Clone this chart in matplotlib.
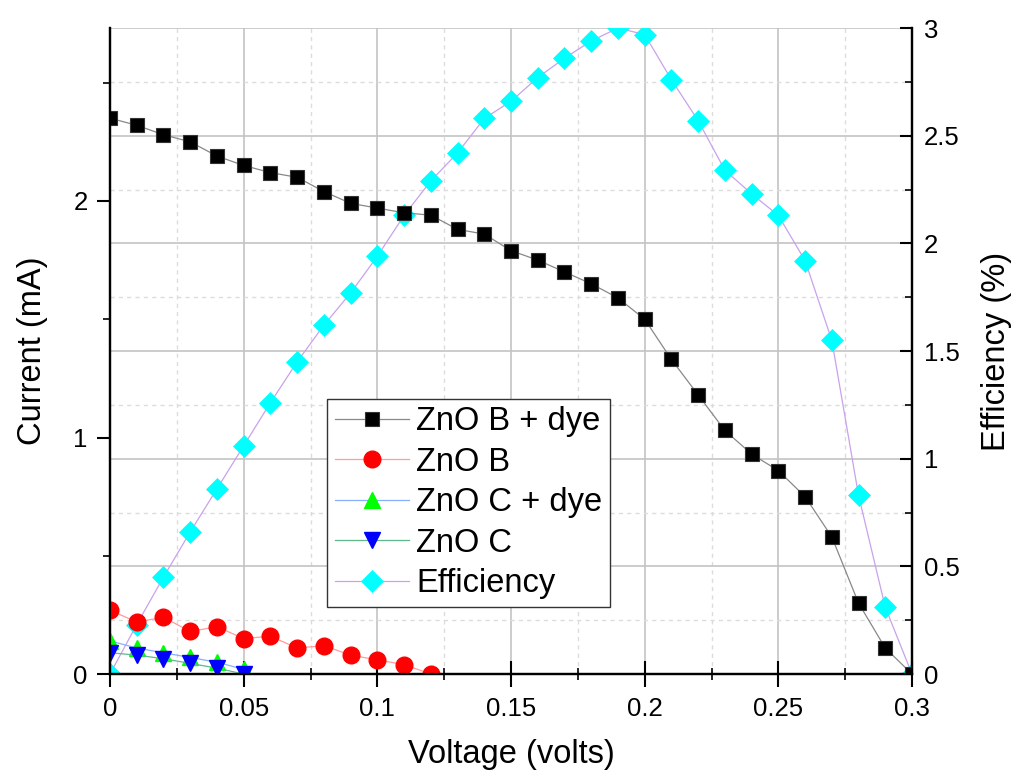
import matplotlib
matplotlib.use("Agg")
import matplotlib.pyplot as plt
from matplotlib.ticker import MultipleLocator, FormatStrFormatter
import numpy as np

plt.rcParams['font.family'] = ['Liberation Sans', 'DejaVu Sans']

# voltage steps (volts)
volts = [0, 0.01, 0.02, 0.03, 0.04, 0.05, 0.06, 0.07, 0.08, 0.09, 0.1,
         0.11, 0.12, 0.13, 0.14, 0.15, 0.16, 0.17, 0.18, 0.19, 0.2,
         0.21, 0.22, 0.23, 0.24, 0.25, 0.26, 0.27, 0.28, 0.29, 0.3]

# current (mA)
znob_dye = [2.35, 2.32, 2.28, 2.25, 2.19, 2.15, 2.12, 2.10, 2.04, 1.99, 1.97,
            1.95, 1.94, 1.88, 1.86, 1.79, 1.75, 1.70, 1.65, 1.59, 1.50,
            1.33, 1.18, 1.03, 0.93, 0.86, 0.75, 0.58, 0.30, 0.11, 0.0]
volts_b = volts[:13]
znob = [0.27, 0.22, 0.24, 0.18, 0.20, 0.15, 0.16, 0.11, 0.12, 0.08, 0.06, 0.04, 0.0]
volts_c = volts[:6]
znoc_dye = [0.14, 0.11, 0.09, 0.07, 0.05, 0.02]
znoc = [0.09, 0.08, 0.065, 0.045, 0.025, 0.0]

# efficiency (%)
eff = [0.0, 0.23, 0.45, 0.66, 0.86, 1.06, 1.26, 1.45, 1.62, 1.77, 1.94,
       2.13, 2.29, 2.42, 2.58, 2.66, 2.77, 2.86, 2.94, 3.00, 2.97,
       2.76, 2.57, 2.34, 2.23, 2.13, 1.92, 1.55, 0.83, 0.31, 0.0]

fig = plt.figure(figsize=(10.13, 7.73), dpi=100)
ax_e = fig.add_axes([0.1086, 0.128, 0.7917, 0.8357])
ax_i = ax_e.twinx()

# efficiency axis (right) carries the grid, drawn underneath
ax_e.plot(volts, eff, color='#c8a2ec', lw=0.9, marker='D', ms=11.5,
          mfc='cyan', mec='cyan', mew=0.5, label='Efficiency')
ax_e.set_xlim(0, 0.3)
ax_e.set_ylim(0, 3)
ax_e.xaxis.set_major_locator(MultipleLocator(0.05))
ax_e.xaxis.set_minor_locator(MultipleLocator(0.025))
ax_e.xaxis.set_major_formatter(FormatStrFormatter('%g'))
ax_e.yaxis.set_major_locator(MultipleLocator(0.5))
ax_e.yaxis.set_minor_locator(MultipleLocator(0.25))
ax_e.yaxis.set_major_formatter(FormatStrFormatter('%g'))
ax_e.yaxis.tick_right()
ax_e.yaxis.set_label_position('right')
ax_e.grid(which='major', color='#c4c4c4', lw=1.2, ls='-')
ax_e.grid(which='minor', color='#dcdcdc', lw=1.0, ls=(0, (3, 3)))
ax_e.set_axisbelow(True)

ax_i.plot(volts, znob_dye, color='#888888', lw=0.9, marker='s', ms=10.5,
          mfc='black', mec='#333333', mew=0.8, label='ZnO B + dye')
ax_i.plot(volts_b, znob, color='#ff9c9c', lw=0.9, marker='o', ms=12,
          mfc='red', mec='red', label='ZnO B')
ax_i.plot(volts_c, znoc_dye, color='#86b0ff', lw=0.9, marker='^', ms=12,
          mfc='#00ff00', mec='#00ff00', label='ZnO C + dye')
ax_i.plot(volts_c, znoc, color='#5fb88a', lw=0.9, marker='v', ms=12,
          mfc='blue', mec='blue', label='ZnO C')
ax_i.set_ylim(0, 2.731)
ax_i.yaxis.set_major_locator(MultipleLocator(1))
ax_i.yaxis.set_minor_locator(MultipleLocator(0.5))
ax_i.yaxis.set_major_formatter(FormatStrFormatter('%g'))
ax_i.yaxis.tick_left()
ax_i.yaxis.set_label_position('left')

for a in (ax_e, ax_i):
    a.spines['top'].set_visible(False)
    for s in ('left', 'right', 'bottom'):
        a.spines[s].set_linewidth(1.6)
        a.spines[s].set_color('black')

ax_e.tick_params(axis='x', which='major', direction='inout', length=19, width=1.5,
                 labelsize=18.5, pad=7)
ax_e.tick_params(axis='x', which='minor', direction='inout', length=9, width=1.2)
ax_e.tick_params(axis='y', which='major', direction='in', length=9, width=1.5,
                 labelsize=18.5, pad=8.5)
ax_e.tick_params(axis='y', which='minor', direction='in', length=5, width=1.2)
ax_i.tick_params(axis='y', which='major', direction='out', length=9.5, width=1.5,
                 labelsize=18.5, pad=6.5)
ax_i.tick_params(axis='y', which='minor', direction='out', length=5, width=1.2)

ax_e.set_xlabel('Voltage (volts)', fontsize=23.5, labelpad=13)
ax_e.set_ylabel('Efficiency (%)', fontsize=23.5, labelpad=15)
ax_i.set_ylabel('Current (mA)', fontsize=23.5, labelpad=18)

h1, l1 = ax_i.get_legend_handles_labels()
h2, l2 = ax_e.get_legend_handles_labels()
leg = ax_i.legend(h1 + h2, l1 + l2, loc='lower left', bbox_to_anchor=(0.2706, 0.1037),
                  borderaxespad=0, fontsize=23.5, fancybox=False, framealpha=1,
                  edgecolor='#333333', handlelength=2.27, handletextpad=0.22,
                  borderpad=0.24, labelspacing=0.29)
leg.get_frame().set_linewidth(1.0)

fig.savefig('out.png', dpi=100)
